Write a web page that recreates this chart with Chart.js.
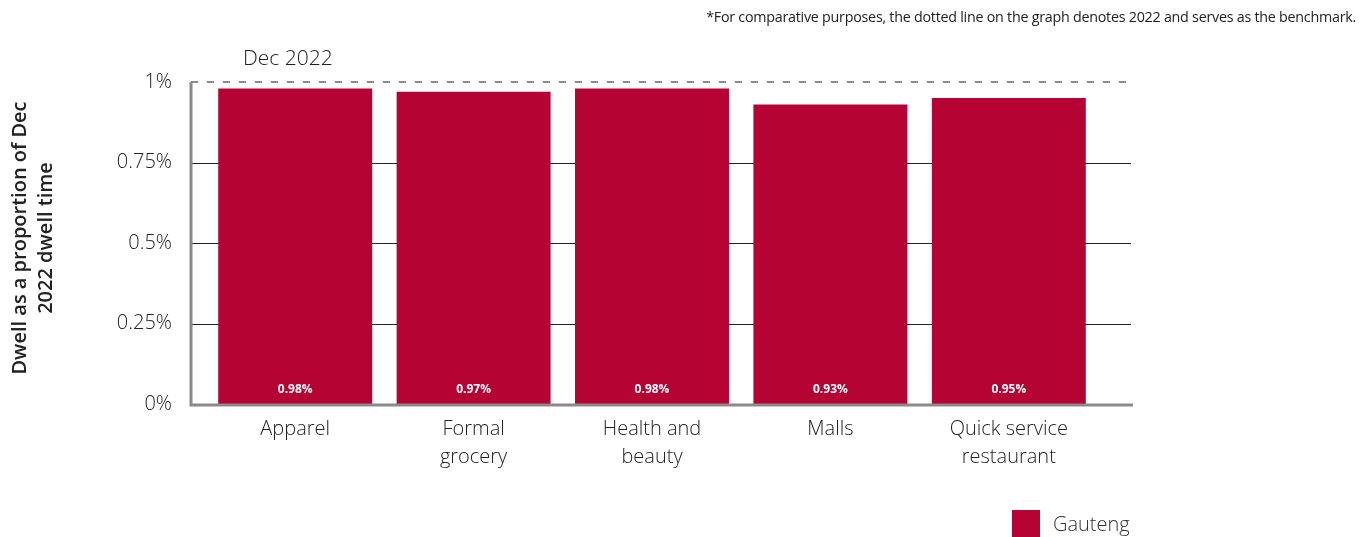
<!DOCTYPE html>
<html>
<head>
<meta charset="utf-8">
<script src="https://cdn.jsdelivr.net/npm/chart.js@4/dist/chart.umd.min.js"></script>
<style>
  body { margin: 0; background: #fff; font-family: "Open Sans", sans-serif; }
  .wrap { position: relative; width: 1369px; height: 537px; }
  .note { position: absolute; right: 13px; top: 7px; font-size: 14.3px; color: #222; letter-spacing: -0.25px; }
  .legend { position: absolute; left: 1012px; top: 510px; display: flex; align-items: center; font-size: 20px; color: #333; font-weight: 300; }
  .legend span.box { width: 28px; height: 27px; background: #b50333; margin-right: 13px; }
</style>
</head>
<body>
<div class="wrap">
  <canvas id="dwell-chart" width="1369" height="537"></canvas>
  <div class="note">*For comparative purposes, the dotted line on the graph denotes 2022 and serves as the benchmark.</div>
  <div class="legend"><span class="box"></span>Gauteng</div>
</div>
<script>
const categories = [['Apparel'], ['Formal', 'grocery'], ['Health and', 'beauty'], ['Malls'], ['Quick service', 'restaurant']];
const gauteng = [0.98, 0.97, 0.98, 0.93, 0.95];
const yTicks = [0, 0.25, 0.5, 0.75, 1];
const barColor = '#b50333';

// gridlines, benchmark line, axes and captions drawn around the bars
const decorations = {
  id: 'decorations',
  beforeDatasetsDraw(chart) {
    const c = chart.ctx;
    const y = chart.scales.y;
    const x0 = 191, x1 = 1131;
    c.save();
    c.strokeStyle = '#222';
    c.lineWidth = 1;
    [0.25, 0.5, 0.75].forEach(v => {
      const py = Math.round(y.getPixelForValue(v)) + 0.5;
      c.beginPath(); c.moveTo(x0, py); c.lineTo(x1, py); c.stroke();
    });
    c.strokeStyle = '#8a8a8a';
    c.lineWidth = 2;
    c.setLineDash([7, 9]);
    const top = y.getPixelForValue(1);
    c.beginPath(); c.moveTo(x0, top); c.lineTo(x1, top); c.stroke();
    c.setLineDash([]);
    c.restore();
  },
  afterDatasetsDraw(chart) {
    const c = chart.ctx;
    const y = chart.scales.y;
    const top = y.getPixelForValue(1), bottom = y.getPixelForValue(0);
    c.save();
    // axes
    c.strokeStyle = '#8a8a8a';
    c.lineWidth = 3;
    c.beginPath(); c.moveTo(191, top); c.lineTo(191, bottom + 1); c.lineTo(1133, bottom + 1); c.stroke();

    // value labels inside the bars
    c.fillStyle = '#fff';
    c.font = 'bold 12px "Open Sans"';
    c.textAlign = 'center';
    c.textBaseline = 'middle';
    chart.getDatasetMeta(0).data.forEach((bar, i) => {
      c.fillText(gauteng[i].toFixed(2) + '%', bar.x, bottom - 14);
    });

    // benchmark caption
    c.fillStyle = '#222';
    c.font = '300 21px "Open Sans"';
    c.textAlign = 'left';
    c.fillText('Dec 2022', 243, top - 23);

    // y axis title
    c.translate(33, y.getPixelForValue(0.5) - 5);
    c.rotate(-Math.PI / 2);
    c.font = '600 20px "Open Sans"';
    c.textAlign = 'center';
    c.fillText('Dwell as a proportion of Dec', 0, -13);
    c.fillText('2022 dwell time', 0, 13);
    c.restore();
  }
};

new Chart(document.getElementById('dwell-chart'), {
  type: 'bar',
  data: {
    labels: categories,
    datasets: [{
      label: 'Gauteng',
      data: gauteng,
      backgroundColor: barColor,
      categoryPercentage: 1,
      barPercentage: 0.863
    }]
  },
  options: {
    responsive: false,
    animation: false,
    layout: { padding: { top: 82, right: 271, left: 0, bottom: 0 } },
    plugins: { legend: { display: false }, tooltip: { enabled: false } },
    scales: {
      x: {
        grid: { display: false },
        border: { display: false },
        ticks: { color: '#222', font: { family: 'Open Sans', size: 20, weight: 300, lineHeight: 1.4 }, padding: 3, maxRotation: 0 },
        afterFit(scale) { scale.height = 133; }
      },
      y: {
        min: 0,
        max: 1,
        grid: { display: false },
        border: { display: false },
        afterBuildTicks(scale) { scale.ticks = yTicks.map(v => ({ value: v })); },
        ticks: {
          color: '#222',
          padding: 26,
          font: { family: 'Open Sans', size: 20, weight: 300 },
          callback: v => v + '%'
        },
        afterFit(scale) { scale.width = 206; }
      }
    }
  },
  plugins: [decorations]
});
</script>
</body>
</html>
